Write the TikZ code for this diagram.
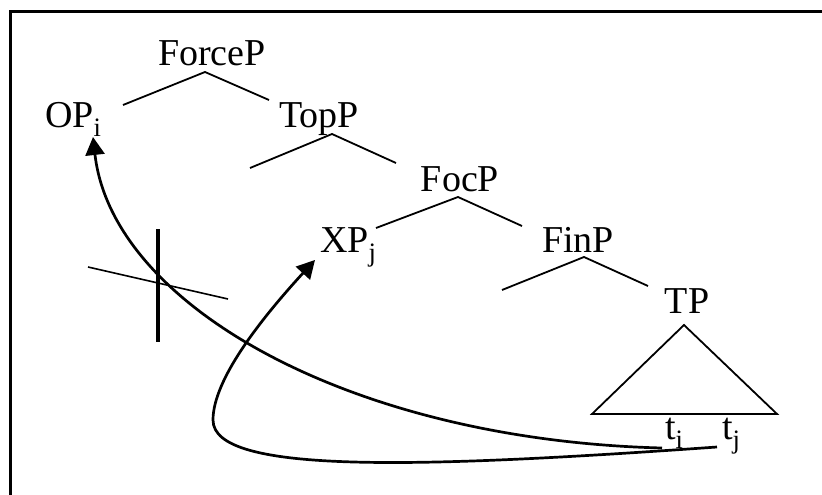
\documentclass[tikz,border=0pt]{standalone}
\usepackage{fontspec}
\setmainfont{Liberation Serif}
\usetikzlibrary{arrows.meta}
\begin{document}
\begin{tikzpicture}[x=1pt,y=-1pt,
  lbl/.style={inner sep=0pt,outer sep=0pt,font=\fontsize{38}{44}\selectfont},
  branch/.style={line width=1.8pt},
  move/.style={line width=2.7pt,-{Triangle[length=18pt,width=19pt]}},
  frameline/.style={line width=3pt}]
\useasboundingbox (0,0) rectangle (822,495);
\draw[frameline] (10,500) -- (10,12) -- (830,12);
% labels
\node[lbl,anchor=base] (forcep) at (212,66) {ForceP};
\node[lbl,anchor=base west] (op) at (45,127) {OP\textsubscript{i}};
\node[lbl,anchor=base] (topp) at (319,127) {TopP};
\node[lbl,anchor=base] (focp) at (460,191) {FocP};
\node[lbl,anchor=base west] (xp) at (320,252) {XP\textsubscript{j}};
\node[lbl,anchor=base] (finp) at (578,252) {FinP};
\node[lbl,anchor=base] (tp) at (687,313) {TP};
\node[lbl,anchor=base west] (ti) at (665,439) {t\textsubscript{i}};
\node[lbl,anchor=base west] (tj) at (722,439) {t\textsubscript{j}};
% branch points
\coordinate (fa) at (205,72);  \coordinate (fl) at (123,105); \coordinate (fr) at (269,100);
\coordinate (ta) at (332,134); \coordinate (tl) at (250,168); \coordinate (tr) at (396,163);
\coordinate (ca) at (458,197); \coordinate (cl) at (376,228); \coordinate (cr) at (522,226);
\coordinate (na) at (584,257); \coordinate (nl) at (502,290); \coordinate (nr) at (648,286);
\coordinate (pa) at (684,325); \coordinate (pl) at (592,414); \coordinate (pr) at (777,414);
\draw[branch] (fl) -- (fa) -- (fr);
\draw[branch] (tl) -- (ta) -- (tr);
\draw[branch] (cl) -- (ca) -- (cr);
\draw[branch] (nl) -- (na) -- (nr);
\draw[branch,line join=miter] (pa) -- (pl) -- (pr) -- cycle;
% movement arrows
\coordinate (si) at (662,448);
\coordinate (sj) at (717,447);
\coordinate (opt) at (93,137);
\coordinate (xpt) at (315,260);
\coordinate (loop) at (213,420);
\draw[move] (si) .. controls (350,440) and (112,305) .. (opt);
\draw[move] (sj) .. controls (420,468) and (213,475) .. (loop)
  .. controls (213,380) and (260,320) .. (xpt);
% cross mark
\coordinate (xt) at (158,229); \coordinate (xb) at (158,342);
\coordinate (xl) at (88,267);  \coordinate (xr) at (228,299);
\draw[line width=4pt] (xt) -- (xb);
\draw[line width=1.6pt] (xl) -- (xr);
\end{tikzpicture}
\end{document}
